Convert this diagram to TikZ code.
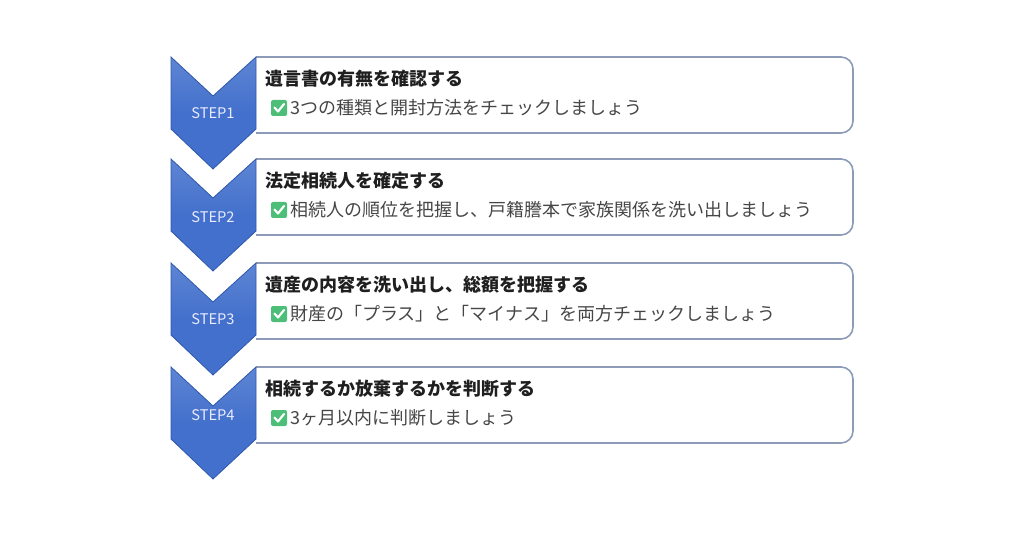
\documentclass[tikz,border=0pt]{standalone}
\usepackage{fontspec}
\setmainfont{Noto Sans CJK JP}
\usepackage{xcolor}
\definecolor{stepblue}{RGB}{66,112,204}
\definecolor{stepdark}{RGB}{47,88,170}
\definecolor{boxline}{RGB}{140,156,184}
\definecolor{chkgreen}{RGB}{76,190,120}
\definecolor{subgray}{RGB}{70,70,70}

\tikzset{
  boxframe/.style={draw=boxline, line width=1.2pt},
  chevron/.style={draw=stepdark, line width=0.6pt, top color=stepblue!85!white, bottom color=stepblue, middle color=stepblue},
  steplabel/.style={text=white!92!blue, font=\fontsize{11}{12}\selectfont},
  titletext/.style={anchor=west, inner sep=0pt, text=black!88, font=\fontsize{13.5}{16}\selectfont\bfseries},
  subtext/.style={anchor=west, inner sep=0pt, text=subgray, font=\fontsize{13.5}{16}\selectfont},
  chkbox/.pic={
    \fill[chkgreen, rounded corners=1.5pt] (-8,-8) rectangle (8,8);
    \draw[white, line width=1.6pt, line cap=round, line join=round] (-4.5,-0.5) -- (-1,3.5) -- (5,-4);
  }
}

\begin{document}
\begin{tikzpicture}[x=0.75pt, y=-0.75pt]
  \useasboundingbox (0,0) rectangle (1024,538);

  \foreach \t/\l/\n/\tit/\sub in {
      57/56/1/遺言書の有無を確認する/3つの種類と開封方法をチェックしましょう,
      159/58/2/法定相続人を確定する/相続人の順位を把握し、戸籍謄本で家族関係を洗い出しましょう,
      263/56/3/遺産の内容を洗い出し、総額を把握する/財産の「プラス」と「マイナス」を両方チェックしましょう,
      367/48/4/相続するか放棄するかを判断する/3ヶ月以内に判断しましょう}{
    % Riquadro
    \draw[boxframe] (256,\t) [rounded corners=9pt] -- (853,\t) -- (853,\t+76)
                    -- (300,\t+76) [sharp corners] -- (256,\t+76);
    % Freccia
    \draw[chevron] (171,\t) -- (213,\t+39) -- (256,\t) -- (256,\t+72)
                   -- (213,\t+112) -- (171,\t+72) -- cycle;
    \node[steplabel] (step\n) at (213,\t+\l) {STEP\n};
    % Testi
    \node[titletext] (title\n) at (265,\t+22) {\tit};
    \pic at (279,\t+51) {chkbox};
    \node[subtext] (sub\n) at (290,\t+51) {\sub};
  }
\end{tikzpicture}
\end{document}
